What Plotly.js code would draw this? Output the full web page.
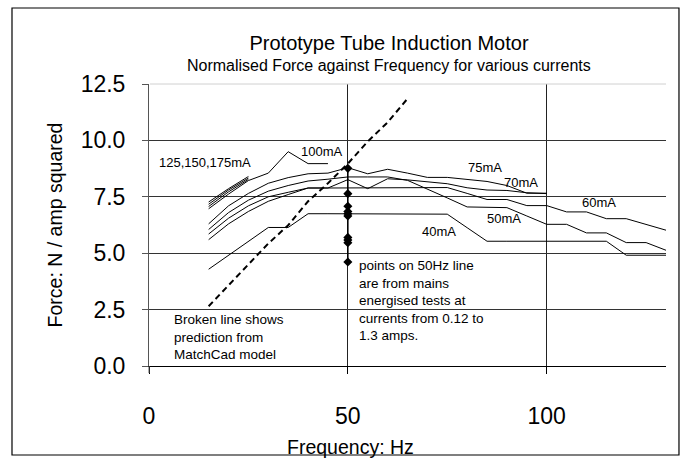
<!DOCTYPE html>
<html>
<head>
<meta charset="utf-8">
<script src="https://cdn.plot.ly/plotly-3.0.1.min.js"></script>
<style>html,body{margin:0;padding:0;background:#fff;}#chart{width:691px;height:463px;}</style>
</head>
<body>
<div id="chart"></div>
<script>
// ---- data ----
const freqShort = [15, 20, 25];
const force175 = [7.27, 7.86, 8.40];
const force150 = [7.17, 7.80, 8.33];
const force125 = [7.07, 7.72, 8.27];

const freq100 = [15, 20, 25, 30, 35, 40, 45];
const force100 = [6.97, 7.62, 8.22, 8.55, 9.50, 8.97, 8.97];

const freqTo100 = [15, 20, 25, 30, 35, 40, 45, 50, 55, 60, 65, 70, 75, 80, 85, 90, 95, 100];
const force75 = [6.30, 7.10, 7.65, 8.10, 8.35, 8.52, 8.55, 8.79, 8.52, 8.72, 8.55, 8.36, 8.36, 8.27, 8.18, 8.00, 7.66, 7.66];
const force70 = [5.85, 6.55, 7.10, 7.50, 7.70, 7.89, 7.89, 8.26, 7.86, 8.30, 8.25, 8.15, 8.08, 7.90, 7.80, 7.78, 7.68, 7.64];

const freqFull = [15, 20, 25, 30, 35, 40, 45, 50, 55, 60, 65, 70, 75, 80, 85, 90, 95, 100, 105, 110, 115, 120, 125, 130];
const force60 = [5.60, 6.30, 6.85, 7.30, 7.60, 7.89, 7.89, 7.89, 7.89, 7.89, 7.90, 7.91, 7.91, 7.65, 7.38, 7.38, 7.11, 7.11, 6.83, 6.83, 6.53, 6.53, 6.27, 6.02];
const force50 = [6.05, 6.80, 7.35, 7.75, 8.00, 8.20, 8.28, 8.38, 8.38, 8.38, 8.23, 7.85, 7.45, 7.05, 7.03, 7.02, 6.65, 6.28, 6.28, 5.90, 5.90, 5.47, 5.47, 5.13];
const force40 = [4.29, 4.91, 5.52, 6.14, 6.14, 6.75, 6.75, 6.75, 6.75, 6.75, 6.75, 6.75, 6.73, 6.13, 5.53, 5.53, 5.53, 5.53, 5.53, 5.53, 5.53, 4.91, 4.91, 4.91];

const freqModel = [15, 20, 25, 30, 35, 40, 45, 50, 55, 60, 65];
const forceModel = [2.65, 3.58, 4.47, 5.43, 6.24, 7.30, 8.10, 8.97, 9.95, 10.80, 11.85];

const freqMains = [50, 50, 50, 50, 50, 50, 50, 50, 50, 50];
const forceMains = [8.76, 7.64, 7.08, 6.85, 6.75, 6.65, 5.70, 5.58, 5.46, 4.61];

const xTicks = [0, 50, 100];
const yTicks = [0, 2.5, 5, 7.5, 10, 12.5];

const seriesLabels = ['100mA', '125,150,175mA', '75mA', '70mA', '60mA', '50mA', '40mA'];
const labelFreq = [43.4, 14.2, 84.4, 93.6, 113.1, 89.3, 72.9];
const labelForce = [9.51, 9.0, 8.78, 8.14, 7.23, 6.55, 5.95];

// ---- chart ----
const FONT = 'Liberation Sans, Arial, sans-serif';
const thin = {color: '#000', width: 1};
function line(x, y, name) {
  return {x: x, y: y, name: name, type: 'scatter', mode: 'lines', line: thin};
}
const traces = [
  line(freqShort, force175, '175mA'),
  line(freqShort, force150, '150mA'),
  line(freqShort, force125, '125mA'),
  line(freq100, force100, '100mA'),
  line(freqTo100, force75, '75mA'),
  line(freqTo100, force70, '70mA'),
  line(freqFull, force60, '60mA'),
  line(freqFull, force50, '50mA'),
  line(freqFull, force40, '40mA'),
  {x: freqModel, y: forceModel, name: 'MatchCad model', type: 'scatter', mode: 'lines',
   line: {color: '#000', width: 2, dash: '6px,4px'}},
  {x: freqMains, y: forceMains, name: 'Mains tests', type: 'scatter', mode: 'lines+markers',
   line: {color: '#000', width: 1.5}, marker: {symbol: 'diamond', size: 7, color: '#000'}}
];

const annotations = seriesLabels.map((t, i) => ({
  text: t, x: labelFreq[i], y: labelForce[i], xref: 'x', yref: 'y',
  showarrow: false, xanchor: 'center', yanchor: 'middle',
  font: {family: FONT, size: 13, color: '#000'}
}));
annotations.push({
  text: 'points on 50Hz line<br>are from mains<br>energised tests at<br>currents from 0.12 to<br>1.3 amps.',
  x: 52.4, y: 4.86, xref: 'x', yref: 'y', showarrow: false, align: 'left',
  xanchor: 'left', yanchor: 'top', font: {family: FONT, size: 13.5, color: '#000'}
});
annotations.push({
  text: 'Broken line shows<br>prediction from<br>MatchCad model',
  x: 5.8, y: 2.5, xref: 'x', yref: 'y', showarrow: false, align: 'left',
  xanchor: 'left', yanchor: 'top', font: {family: FONT, size: 13.5, color: '#000'}
});
annotations.push({
  text: 'Normalised Force against Frequency for various currents',
  x: 0.464, y: 1.066, xref: 'paper', yref: 'paper', showarrow: false,
  xanchor: 'center', yanchor: 'middle', font: {family: FONT, size: 16, color: '#000'}
});
annotations.push({
  text: 'Frequency: Hz',
  x: 0.389, y: -0.289, xref: 'paper', yref: 'paper', showarrow: false,
  xanchor: 'center', yanchor: 'middle', font: {family: FONT, size: 19.5, color: '#000'}
});

const layout = {
  width: 691, height: 463,
  margin: {l: 149, r: 25, t: 84, b: 97, pad: 0},
  paper_bgcolor: '#fff', plot_bgcolor: '#fff',
  showlegend: false,
  font: {family: FONT, color: '#000'},
  title: {text: 'Prototype Tube Induction Motor', font: {family: FONT, size: 20, color: '#000'},
          xref: 'container', x: 0.563, xanchor: 'center', yref: 'container', y: 0.907, yanchor: 'middle'},
  xaxis: {range: [0, 130], tickvals: xTicks, ticktext: xTicks.map(String), ticks: 'outside', ticklen: 7,
          tickcolor: '#000', showline: true, linecolor: '#000', linewidth: 1,
          showgrid: true, gridcolor: '#222', gridwidth: 1, zeroline: false,
          tickfont: {family: FONT, size: 23, color: '#000'}, ticklabelstandoff: 22, fixedrange: true},
  yaxis: {range: [0, 12.5], tickvals: yTicks, ticktext: yTicks.map(v => v.toFixed(1)), ticks: 'outside', ticklen: 6,
          tickcolor: '#555', showline: true, linecolor: '#555', linewidth: 1,
          showgrid: true, gridcolor: '#333', gridwidth: 1, zeroline: false,
          tickfont: {family: FONT, size: 23, color: '#000'}, ticklabelstandoff: 12,
          title: {text: 'Force: N / amp squared', font: {family: FONT, size: 19.5, color: '#000'}, standoff: 12},
          fixedrange: true},
  annotations: annotations,
  shapes: [
    {type: 'line', xref: 'paper', yref: 'paper', x0: 0.002, x1: 1, y0: 1, y1: 1,
     line: {color: '#d0d0d0', width: 1}, layer: 'above'},
    {type: 'line', xref: 'paper', yref: 'paper', x0: 0, x1: 0, y0: 0, y1: -0.025,
     line: {color: '#555', width: 1}},
    {type: 'rect', xref: 'paper', yref: 'paper', x0: -0.265, x1: 1.0251, y0: -0.3156, y1: 1.2695,
     line: {color: '#000', width: 1.2}, fillcolor: 'rgba(0,0,0,0)'}
  ]
};

Plotly.newPlot('chart', traces, layout, {displayModeBar: false, staticPlot: true});
</script>
</body>
</html>
